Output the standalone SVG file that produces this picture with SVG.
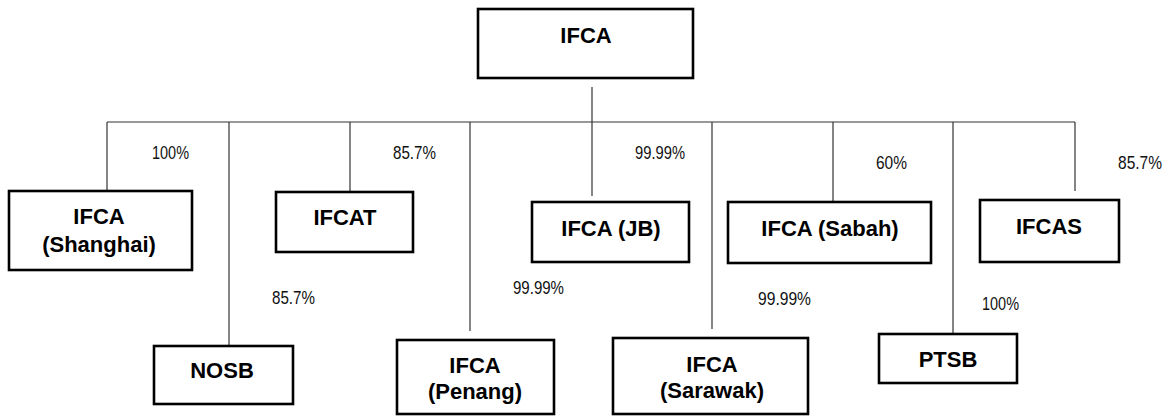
<svg xmlns="http://www.w3.org/2000/svg" width="1171" height="418" viewBox="0 0 1171 418">
<style>
.box{fill:#fff;stroke:#000;stroke-width:2.6}
.name{font-family:"Liberation Sans",Arial,sans-serif;font-weight:bold;font-size:22px;fill:#000;text-anchor:middle}
.pct{font-family:"Liberation Sans",Arial,sans-serif;font-size:19px;fill:#111}
.conn line{stroke:#333;stroke-width:1.2;fill:none}
</style>
<rect width="1171" height="418" fill="#fff"/>
<g id="connectors" class="conn">
<line x1="592" y1="87" x2="592" y2="196"/>
<line x1="107" y1="122" x2="1075" y2="122"/>
<line x1="107" y1="122" x2="107" y2="191"/>
<line x1="229" y1="122" x2="229" y2="356"/>
<line x1="350" y1="122" x2="350" y2="192"/>
<line x1="470" y1="122" x2="470" y2="331"/>
<line x1="712" y1="122" x2="712" y2="329"/>
<line x1="833" y1="122" x2="833" y2="202"/>
<line x1="953" y1="122" x2="953" y2="334"/>
<line x1="1075" y1="122" x2="1075" y2="191"/>
</g>
<g id="labels">
<text class="pct" x="152" y="159" textLength="37" lengthAdjust="spacingAndGlyphs">100%</text>
<text class="pct" x="393" y="159" textLength="43" lengthAdjust="spacingAndGlyphs">85.7%</text>
<text class="pct" x="635" y="159" textLength="50" lengthAdjust="spacingAndGlyphs">99.99%</text>
<text class="pct" x="876" y="169" textLength="31" lengthAdjust="spacingAndGlyphs">60%</text>
<text class="pct" x="1118" y="169" textLength="44" lengthAdjust="spacingAndGlyphs">85.7%</text>
<text class="pct" x="272" y="304" textLength="43" lengthAdjust="spacingAndGlyphs">85.7%</text>
<text class="pct" x="513" y="294" textLength="51" lengthAdjust="spacingAndGlyphs">99.99%</text>
<text class="pct" x="758" y="305" textLength="53" lengthAdjust="spacingAndGlyphs">99.99%</text>
<text class="pct" x="982" y="310" textLength="37" lengthAdjust="spacingAndGlyphs">100%</text>
</g>
<g id="n-ifca"><rect class="box" x="478" y="9" width="215" height="69"/><text class="name" x="586" y="43">IFCA</text></g>
<g id="n-shanghai"><rect class="box" x="9" y="191" width="183" height="79"/><text class="name" x="99" y="224">IFCA</text><text class="name" x="99" y="252">(Shanghai)</text></g>
<g id="n-ifcat"><rect class="box" x="276" y="192" width="137" height="60"/><text class="name" x="345" y="225">IFCAT</text></g>
<g id="n-nosb"><rect class="box" x="154" y="346" width="139" height="58"/><text class="name" x="222" y="378">NOSB</text></g>
<g id="n-penang"><rect class="box" x="397" y="340" width="157" height="74"/><text class="name" x="475" y="373">IFCA</text><text class="name" x="475" y="399">(Penang)</text></g>
<g id="n-jb"><rect class="box" x="532" y="202" width="157" height="60"/><text class="name" x="611" y="236">IFCA (JB)</text></g>
<g id="n-sarawak"><rect class="box" x="613" y="338" width="195" height="76"/><text class="name" x="712" y="372">IFCA</text><text class="name" x="712" y="398">(Sarawak)</text></g>
<g id="n-sabah"><rect class="box" x="728" y="202" width="203" height="61"/><text class="name" x="830" y="236">IFCA (Sabah)</text></g>
<g id="n-ptsb"><rect class="box" x="879" y="334" width="138" height="49"/><text class="name" x="948" y="367">PTSB</text></g>
<g id="n-ifcas"><rect class="box" x="980" y="200" width="139" height="62"/><text class="name" x="1049" y="234">IFCAS</text></g>
</svg>
